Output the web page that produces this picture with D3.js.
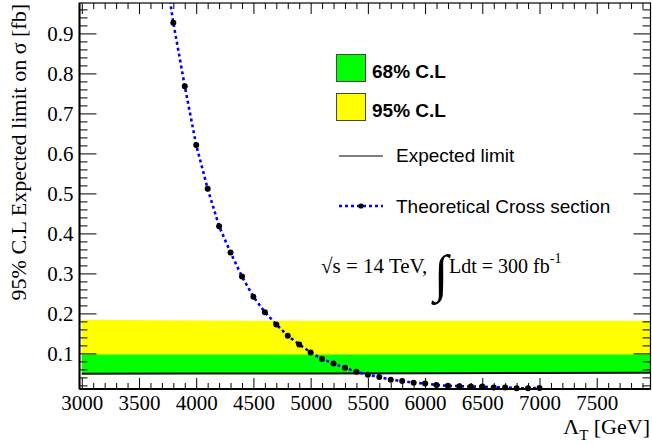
<!DOCTYPE html>
<html><head><meta charset="utf-8">
<script src="https://cdn.jsdelivr.net/npm/d3@7/dist/d3.min.js"></script>
<style>
body{margin:0;background:#fff;}
svg{display:block;}
.tick text{font-family:'Liberation Serif','Times New Roman',serif !important;font-size:21px !important;}
</style></head>
<body>
<svg id="c" width="652" height="444"></svg>
<script>
// ---- data ----
const theoryMass = [3700,3800,3900,4000,4100,4200,4300,4400,4500,4600,4700,4800,4900,5000,5100,5200,5300,5400,5500,5600,5700,5800,5900,6000,6100,6200,6300,6400,6500,6600,6700,6800,6900,7000];
const theoryXsec = [1.116,0.9265,0.768,0.621,0.5115,0.418,0.352,0.292,0.2416,0.203,0.1725,0.144,0.1225,0.1025,0.086,0.075,0.064,0.054,0.0465,0.041,0.034,0.031,0.0265,0.025,0.021,0.019,0.018,0.017,0.017,0.015,0.015,0.013,0.013,0.0135];
const bandMass = [3000,4000,5000,6000,7000,8000];
const expectedLimit = [0.049,0.0495,0.05,0.0505,0.051,0.0515];
const upper68 = [0.0975,0.0975,0.0975,0.0975,0.0975,0.0975];
const upper95 = [0.184,0.182,0.1815,0.1815,0.1815,0.1815];
const xMajorTicks = [3000,3500,4000,4500,5000,5500,6000,6500,7000,7500];
const yMajorTicks = [0.1,0.2,0.3,0.4,0.5,0.6,0.7,0.8,0.9];
const legendLabels = ["68% C.L","95% C.L","Expected limit","Theoretical Cross section"];

// ---- layout ----
const svg = d3.select("#c");
const L = 79.5, R = 650.5, T = 3, B = 389;
const x = d3.scaleLinear().domain([2980, 7970]).range([L, R]);
const y = d3.scaleLinear().domain([0.011, 0.976]).range([B, T]);

const xMinor = d3.range(3000, 7971, 100).filter(v => v % 500 !== 0);
const yMinor = d3.range(0.02, 0.976, 0.02).filter(v => Math.abs(v*10 - Math.round(v*10)) > 1e-6);

svg.append("clipPath").attr("id","clip").append("rect")
  .attr("x", L).attr("y", T).attr("width", R-L).attr("height", B-T);

const plot = svg.append("g").attr("clip-path","url(#clip)");

// bands
const bandRows = bandMass.map((m,i)=>({m, e: expectedLimit[i], u68: upper68[i], u95: upper95[i]}));
plot.append("path").datum(bandRows)
  .attr("d", d3.area().x(d=>x(d.m)).y0(d=>y(d.e)).y1(d=>y(d.u95)))
  .attr("fill","#ffff00");
plot.append("path").datum(bandRows)
  .attr("d", d3.area().x(d=>x(d.m)).y0(d=>y(d.e)).y1(d=>y(d.u68)))
  .attr("fill","#00ff00");
plot.append("path").datum(bandRows)
  .attr("d", d3.line().x(d=>x(d.m)).y(d=>y(d.e)))
  .attr("fill","none").attr("stroke","#111").attr("stroke-width",2);

// theory curve
const theory = theoryMass.map((m,i)=>({m, v: theoryXsec[i]}));
plot.append("path").datum(theory)
  .attr("d", d3.line().x(d=>x(d.m)).y(d=>y(d.v)))
  .attr("fill","none").attr("stroke","#0000ff").attr("stroke-width",2.6)
  .attr("stroke-dasharray","3,3");
svg.append("g").selectAll("circle").data(theory.filter(d=>d.v < 0.976)).join("circle")
  .attr("cx", d=>x(d.m)).attr("cy", d=>y(d.v)).attr("r", 3).attr("fill","#000");

// axes
const fmtY = d3.format(".1f");
const serif = "'Liberation Serif','Times New Roman',serif";
const axStyle = g => { g.selectAll(".domain").remove(); g.selectAll("line").attr("stroke","#000"); g.attr("font-family", serif).attr("font-size", 21); };

svg.append("g").attr("transform",`translate(0,${B})`)
  .call(d3.axisBottom(x).tickValues(xMajorTicks).tickSizeInner(-11).tickSizeOuter(0).tickPadding(6).tickFormat(d3.format("d")))
  .call(axStyle)
  .call(g=>g.selectAll("text").attr("fill","#000"));
svg.append("g").attr("transform",`translate(0,${B})`)
  .call(d3.axisBottom(x).tickValues(xMinor).tickSizeInner(-6).tickSizeOuter(0).tickFormat(""))
  .call(axStyle);
svg.append("g").attr("transform",`translate(0,${T})`)
  .call(d3.axisBottom(x).tickValues(xMajorTicks).tickSizeInner(11).tickSizeOuter(0).tickFormat(""))
  .call(axStyle);
svg.append("g").attr("transform",`translate(0,${T})`)
  .call(d3.axisBottom(x).tickValues(xMinor).tickSizeInner(6).tickSizeOuter(0).tickFormat(""))
  .call(axStyle);

svg.append("g").attr("transform",`translate(${L},0)`)
  .call(d3.axisLeft(y).tickValues(yMajorTicks).tickSizeInner(-17).tickSizeOuter(0).tickPadding(6).tickFormat(fmtY))
  .call(axStyle)
  .call(g=>g.selectAll("text").attr("fill","#000"));
svg.append("g").attr("transform",`translate(${L},0)`)
  .call(d3.axisLeft(y).tickValues(yMinor).tickSizeInner(-8).tickSizeOuter(0).tickFormat(""))
  .call(axStyle);
svg.append("g").attr("transform",`translate(${R},0)`)
  .call(d3.axisLeft(y).tickValues(yMajorTicks).tickSizeInner(17).tickSizeOuter(0).tickFormat(""))
  .call(axStyle);
svg.append("g").attr("transform",`translate(${R},0)`)
  .call(d3.axisLeft(y).tickValues(yMinor).tickSizeInner(8).tickSizeOuter(0).tickFormat(""))
  .call(axStyle);

// frame
svg.append("rect").attr("x",L).attr("y",T).attr("width",R-L).attr("height",B-T)
  .attr("fill","none").attr("stroke","#000").attr("stroke-width",1.2);
svg.append("line").attr("x1",L).attr("x2",R).attr("y1",B).attr("y2",B).attr("stroke","#000").attr("stroke-width",2);
svg.append("line").attr("x1",L).attr("x2",L).attr("y1",T).attr("y2",B).attr("stroke","#000").attr("stroke-width",2);

// axis titles
const xt = svg.append("text").attr("x",650).attr("y",434).attr("text-anchor","end")
  .attr("font-family",serif).attr("font-size",22).attr("fill","#000");
xt.append("tspan").text("Λ");
xt.append("tspan").attr("font-size",15).attr("dy",6).text("T");
xt.append("tspan").attr("dy",-6).text(" [GeV]");

svg.append("text").attr("transform","translate(26,4) rotate(-90)").attr("text-anchor","end")
  .attr("font-family",serif).attr("font-size",22).attr("fill","#000")
  .text("95% C.L Expected limit on σ [fb]");

// legend
const sans = "'Liberation Sans',Arial,Helvetica,sans-serif";
const leg = svg.append("g");
leg.append("rect").attr("x",336.5).attr("y",54.5).attr("width",29).attr("height",27)
  .attr("fill","#00ff00").attr("stroke","#444").attr("stroke-width",1);
leg.append("rect").attr("x",336.5).attr("y",93.5).attr("width",29).attr("height",27)
  .attr("fill","#ffff00").attr("stroke","#444").attr("stroke-width",1);
leg.append("text").attr("x",372).attr("y",77.5).attr("font-family",sans).attr("font-weight","bold")
  .attr("font-size",19).text(legendLabels[0]);
leg.append("text").attr("x",372).attr("y",116.5).attr("font-family",sans).attr("font-weight","bold")
  .attr("font-size",19).text(legendLabels[1]);
leg.append("line").attr("x1",339).attr("x2",383).attr("y1",156).attr("y2",156).attr("stroke","#000").attr("stroke-width",1.2);
leg.append("text").attr("x",396).attr("y",161.5).attr("font-family",sans).attr("font-size",19).text(legendLabels[2]);
leg.append("line").attr("x1",339).attr("x2",383).attr("y1",206).attr("y2",206).attr("stroke","#0000ff")
  .attr("stroke-width",2.6).attr("stroke-dasharray","3,3");
leg.append("circle").attr("cx",361).attr("cy",206).attr("r",2.6).attr("fill","#000");
leg.append("text").attr("x",396).attr("y",212.5).attr("font-family",sans).attr("font-size",19).text(legendLabels[3]);

// energy/lumi text
const ann = svg.append("g").attr("font-family",serif).attr("fill","#000");
ann.append("text").attr("x",321).attr("y",273).attr("font-size",21).text("√s = 14 TeV,");
ann.append("text").attr("x",434).attr("y",291).attr("font-size",52).text("∫");
const lt = ann.append("text").attr("x",449).attr("y",273).attr("font-size",20);
lt.append("tspan").text("Ldt = 300 fb");
lt.append("tspan").attr("font-size",14).attr("dy",-10).text("-1");
</script>
</body></html>
